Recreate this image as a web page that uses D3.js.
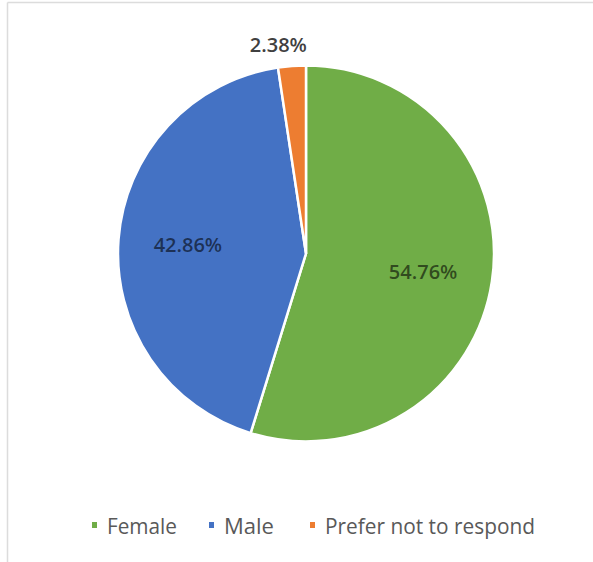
<!DOCTYPE html>
<html>
<head>
<meta charset="utf-8">
<script src="https://cdn.jsdelivr.net/npm/d3@7"></script>
<style>
  html, body { margin: 0; padding: 0; background: #fff; }
  svg { display: block; }
</style>
</head>
<body>
<svg id="chart" width="593" height="562"></svg>
<script>
// ---- data ----
const categories = ["Female", "Male", "Prefer not to respond"];
const values = [54.76, 42.86, 2.38];
const labels = ["54.76%", "42.86%", "2.38%"];
const colors = ["#70AD47", "#4472C4", "#ED7D31"];

// ---- layout ----
const W = 593, H = 562;
const cx = 306, cy = 253.5, R = 188;

const svg = d3.select("#chart");

// frame (light grey, top and left visible)
svg.append("line").attr("x1", 7.5).attr("y1", 2.5).attr("x2", W).attr("y2", 2.5)
  .attr("stroke", "#dcdcdc").attr("stroke-width", 1.5);
svg.append("line").attr("x1", 7.5).attr("y1", 2.5).attr("x2", 7.5).attr("y2", H)
  .attr("stroke", "#dcdcdc").attr("stroke-width", 1.5);

const data = categories.map((c, i) => ({ cat: c, value: values[i], label: labels[i], color: colors[i] }));

const pie = d3.pie().sort(null).value(d => d.value).startAngle(0).endAngle(2 * Math.PI);
const arcs = pie(data);
const arc = d3.arc().innerRadius(0).outerRadius(R);
const labelArcIn = d3.arc().innerRadius(R * 0.63).outerRadius(R * 0.63);
const labelArcOut = d3.arc().innerRadius(R + 22).outerRadius(R + 22);

const g = svg.append("g").attr("transform", `translate(${cx},${cy})`);

g.selectAll("path.slice").data(arcs).enter().append("path")
  .attr("class", "slice")
  .attr("d", arc)
  .attr("fill", d => d.data.color)
  .attr("stroke", "#fff")
  .attr("stroke-width", 2.5)
  .attr("stroke-linejoin", "round");

const fontFam = "'Open Sans', 'Noto Sans', 'DejaVu Sans', sans-serif";

g.selectAll("text.lbl").data(arcs).enter().append("text")
  .attr("class", "lbl")
  .attr("transform", d => {
    const small = (d.endAngle - d.startAngle) < 0.3;
    const p = small ? labelArcOut.centroid(d) : labelArcIn.centroid(d);
    const dx = small ? -12 : 0;
    return `translate(${p[0] + dx},${p[1]})`;
  })
  .attr("text-anchor", "middle")
  .attr("dominant-baseline", "central")
  .attr("font-family", fontFam)
  .attr("font-weight", 600)
  .attr("font-size", 20)
  .attr("fill", d => (d.endAngle - d.startAngle) < 0.3 ? "#404040" : "rgba(0,0,0,0.58)")
  .text(d => d.data.label);

// ---- legend ----
const legendY = 525;
const legendX = [92, 209, 310];     // square left positions
const legendTextW = [70, 50, 210];   // target text widths
const leg = svg.append("g");
data.forEach((d, i) => {
  leg.append("rect")
    .attr("x", legendX[i]).attr("y", legendY - 3)
    .attr("width", 5).attr("height", 6)
    .attr("fill", d.color);
  leg.append("text")
    .attr("x", legendX[i] + 15).attr("y", legendY)
    .attr("dominant-baseline", "central")
    .attr("font-family", fontFam)
    .attr("font-size", 22)
    .attr("fill", "#595959")
    .attr("textLength", legendTextW[i])
    .attr("lengthAdjust", "spacingAndGlyphs")
    .text(d.cat);
});
</script>
</body>
</html>
